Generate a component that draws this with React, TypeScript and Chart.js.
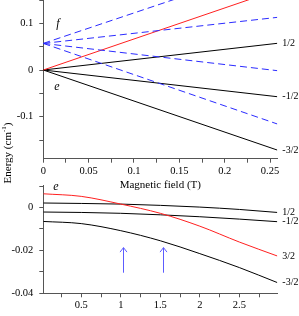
import React, { useEffect, useRef } from 'react';
import { Chart, registerables } from 'chart.js';
Chart.register(...registerables);

// ---------- Top panel data (Magnetic field in T, Energy in cm^-1) ----------
const topField = [0, 0.258];
const eHalf = [0, 0.0572];
const eMinusHalf = [0, -0.0572];
const eMinusThreeHalf = [0, -0.1715];
const eThreeHalf = [0, 0.1715];
const fThreeHalf = [0.057, 0.2255];
const fHalf = [0.057, 0.1128];
const fMinusHalf = [0.057, -0.0014];
const fMinusThreeHalf = [0.057, -0.1156];
const topTagText = ['f', 'e'];
const topTagField = [0.016, 0.015];
const topTagEnergy = [0.0985, -0.036];
const topRightText = ['1/2', '-1/2', '-3/2'];

// ---------- Bottom panel data ----------
const bottomField = [0.02, 0.5, 1.0, 1.5, 2.0, 2.5, 2.98];
const bHalf = [0.0021, 0.0019, 0.0016, 0.001, 0.0002, -0.0009, -0.0023];
const bMinusHalf = [-0.0021, -0.0023, -0.0027, -0.0034, -0.0043, -0.0054, -0.0066];
const bThreeHalf = [0.0064, 0.0052, 0.0016, -0.0027, -0.0087, -0.0161, -0.0226];
const bMinusThreeHalf = [-0.0065, -0.0075, -0.0108, -0.0155, -0.0215, -0.028, -0.035];
const bottomRightText = ['1/2', '-1/2', '3/2', '-3/2'];
const bottomTagText = ['e'];
const bottomTagField = [0.18];
const bottomTagEnergy = [0.0095];
const arrowField = [1.03, 1.54];
const arrowFrom = [-0.0304, -0.0304];
const arrowTo = [-0.0187, -0.0187];

const FONT = '"Liberation Serif", "Times New Roman", serif';
const AXIS = '#555555';
const BLUE = '#2b2bff';
const RED = '#ff2020';
const BLACK = '#000000';

const pts = (xs: number[], ys: number[]) => xs.map((x, i) => ({ x, y: ys[i] }));
const onlyEvery = (step: number) => (v: any) => {
  const r = Number(v) / step;
  return Math.abs(r - Math.round(r)) < 1e-6 ? String(+Number(v).toFixed(3)) : '';
};

const fixY = (w: number) => (s: any) => { s.width = w; s.paddingTop = 0; s.paddingBottom = 0; };
const fixX = (h: number) => (s: any) => { s.height = h; s.paddingLeft = 0; s.paddingRight = 0; };

const solid = (label: string, xs: number[], ys: number[], color: string, smooth = false) => ({
  label, data: pts(xs, ys), borderColor: color, borderWidth: 1, pointRadius: 0,
  fill: false, cubicInterpolationMode: smooth ? 'monotone' : 'default', tension: 0,
});
const dashed = (label: string, xs: number[], ys: number[]) => ({
  ...solid(label, xs, ys, BLUE), borderDash: [7, 4],
});

const axisCommon = {
  type: 'linear',
  border: { display: true, color: AXIS, width: 1 },
  grid: { display: true, drawOnChartArea: false, drawTicks: true, tickLength: 4, tickColor: AXIS },
};

function rightLabels(chart: any, texts: string[], series: number[][]) {
  const { ctx, chartArea, scales } = chart;
  ctx.save();
  ctx.fillStyle = '#000';
  ctx.font = `10px ${FONT}`;
  ctx.textAlign = 'left';
  ctx.textBaseline = 'middle';
  texts.forEach((t, i) => {
    const s = series[i];
    ctx.fillText(t, chartArea.right + 5, scales.y.getPixelForValue(s[s.length - 1]));
  });
  ctx.restore();
}
function tags(chart: any, texts: string[], xs: number[], ys: number[]) {
  const { ctx, scales } = chart;
  ctx.save();
  ctx.fillStyle = '#000';
  ctx.font = `italic 12px ${FONT}`;
  ctx.textAlign = 'center';
  ctx.textBaseline = 'middle';
  texts.forEach((t, i) => ctx.fillText(t, scales.x.getPixelForValue(xs[i]), scales.y.getPixelForValue(ys[i])));
  ctx.restore();
}

const topPlugin = {
  id: 'topAnnot',
  afterDraw(chart: any) {
    rightLabels(chart, topRightText, [eHalf, eMinusHalf, eMinusThreeHalf]);
    tags(chart, topTagText, topTagField, topTagEnergy);
    // shared y-axis title
    const ctx = chart.ctx;
    ctx.save();
    ctx.fillStyle = '#000';
    ctx.translate(8, 153);
    ctx.rotate(-Math.PI / 2);
    ctx.textBaseline = 'middle';
    ctx.textAlign = 'left';
    ctx.font = `11px ${FONT}`;
    const a = 'Energy (cm';
    const wa = ctx.measureText(a).width;
    ctx.font = `7px ${FONT}`;
    const sup = '-1';
    const ws = ctx.measureText(sup).width;
    ctx.font = `11px ${FONT}`;
    const wc = ctx.measureText(')').width;
    let x0 = -(wa + ws + wc) / 2;
    ctx.fillText(a, x0, 0);
    x0 += wa;
    ctx.font = `7px ${FONT}`;
    ctx.fillText(sup, x0, -4);
    x0 += ws;
    ctx.font = `11px ${FONT}`;
    ctx.fillText(')', x0, 0);
    ctx.restore();
  },
};

const bottomPlugin = {
  id: 'bottomAnnot',
  afterDraw(chart: any) {
    rightLabels(chart, bottomRightText, [bHalf, bMinusHalf, bThreeHalf, bMinusThreeHalf]);
    tags(chart, bottomTagText, bottomTagField, bottomTagEnergy);
    const { ctx, scales } = chart;
    ctx.save();
    ctx.strokeStyle = '#5c5cff';
    ctx.lineWidth = 1;
    arrowField.forEach((f, i) => {
      const x = Math.round(scales.x.getPixelForValue(f)) + 0.5;
      const y0 = scales.y.getPixelForValue(arrowFrom[i]);
      const y1 = scales.y.getPixelForValue(arrowTo[i]);
      ctx.beginPath();
      ctx.moveTo(x, y0);
      ctx.lineTo(x, y1);
      ctx.moveTo(x - 3.5, y1 + 4.5);
      ctx.lineTo(x, y1);
      ctx.lineTo(x + 3.5, y1 + 4.5);
      ctx.stroke();
    });
    ctx.restore();
  },
};

export default function App() {
  const ref1 = useRef<HTMLCanvasElement>(null);
  const ref2 = useRef<HTMLCanvasElement>(null);

  useEffect(() => {
    const tickFont = { family: FONT, size: 10.5 };
    const c1 = new Chart(ref1.current as HTMLCanvasElement, {
      type: 'line',
      data: {
        datasets: [
          dashed('f 3/2', topField, fThreeHalf),
          dashed('f 1/2', topField, fHalf),
          dashed('f -1/2', topField, fMinusHalf),
          dashed('f -3/2', topField, fMinusThreeHalf),
          solid('e 3/2', topField, eThreeHalf, RED),
          solid('e 1/2', topField, eHalf, BLACK),
          solid('e -1/2', topField, eMinusHalf, BLACK),
          solid('e -3/2', topField, eMinusThreeHalf, BLACK),
        ] as any,
      },
      options: {
        responsive: false,
        animation: false,
        devicePixelRatio: 1,
        layout: { padding: { top: 0, right: 21.7, bottom: 121, left: 0 } },
        plugins: { legend: { display: false }, tooltip: { enabled: false } },
        scales: {
          x: {
            ...axisCommon,
            min: 0, max: 0.258,
            afterFit: fixX(36.3),
            ticks: { stepSize: 0.025, includeBounds: false, autoSkip: false, maxRotation: 0, padding: 2, color: '#000', font: tickFont, callback: onlyEvery(0.05) },
            title: { display: true, text: 'Magnetic field (T)', color: '#000', font: { family: FONT, size: 11 }, padding: { top: 0, bottom: 3 } },
          },
          y: {
            ...axisCommon,
            min: -0.19, max: 0.15,
            afterFit: fixY(43.3),
            ticks: { stepSize: 0.05, includeBounds: false, autoSkip: false, padding: 6, color: '#000', font: tickFont, callback: onlyEvery(0.1) },
          },
        } as any,
      },
      plugins: [topPlugin],
    } as any);

    const c2 = new Chart(ref2.current as HTMLCanvasElement, {
      type: 'line',
      data: {
        datasets: [
          solid('3/2', bottomField, bThreeHalf, RED, true),
          solid('1/2', bottomField, bHalf, BLACK, true),
          solid('-1/2', bottomField, bMinusHalf, BLACK, true),
          solid('-3/2', bottomField, bMinusThreeHalf, BLACK, true),
        ] as any,
      },
      options: {
        responsive: false,
        animation: false,
        devicePixelRatio: 1,
        layout: { padding: { top: 185, right: 21.7, bottom: 0, left: 0 } },
        plugins: { legend: { display: false }, tooltip: { enabled: false } },
        scales: {
          x: {
            ...axisCommon,
            min: 0.02, max: 2.98,
            afterFit: fixX(22.7),
            ticks: { stepSize: 0.25, includeBounds: false, autoSkip: false, maxRotation: 0, padding: 2, color: '#000', font: tickFont, callback: onlyEvery(0.5) },
          },
          y: {
            ...axisCommon,
            min: -0.04, max: 0.0105,
            afterFit: fixY(43.3),
            ticks: { stepSize: 0.01, includeBounds: false, autoSkip: false, padding: 6, color: '#000', font: tickFont, callback: onlyEvery(0.02) },
          },
        } as any,
      },
      plugins: [bottomPlugin],
    } as any);

    return () => { c1.destroy(); c2.destroy(); };
  }, []);

  return (
    <div style={{ position: 'fixed', left: 0, top: 0, width: 299, height: 316, background: '#fff' }}>
      <canvas ref={ref1} width={299} height={316} style={{ position: 'absolute', left: 0, top: 0 }} />
      <canvas ref={ref2} width={299} height={316} style={{ position: 'absolute', left: 0, top: 0 }} />
    </div>
  );
}
